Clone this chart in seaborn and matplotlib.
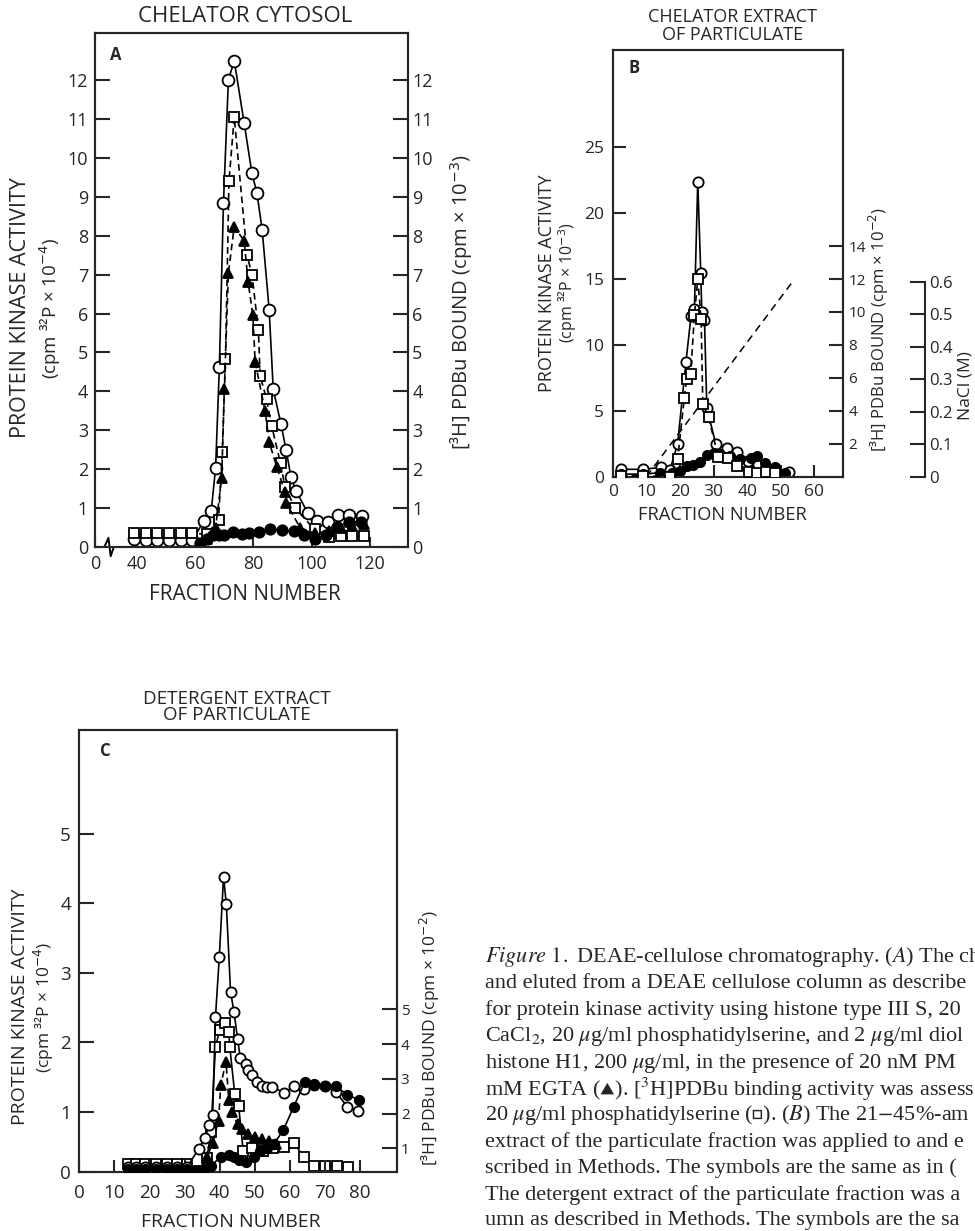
import numpy as np
import matplotlib
matplotlib.use("Agg")
import matplotlib.pyplot as plt
import seaborn as sns

# ---------- DATA ----------
# Panel A: chelator cytosol
A_open_x = [39, 43, 47, 51, 55, 59, 63, 65.5, 67, 68.3, 69.7, 71.4, 73.4, 76.8, 79.5, 81.2, 83, 85.4,
            86.8, 89.5, 91.2, 92.9, 94.6, 98.7, 101.8, 105.6, 109, 113, 117.3]
A_open_y = [0.2, 0.17, 0.17, 0.18, 0.18, 0.17, 0.67, 0.93, 2.03, 4.63, 8.84, 12.0, 12.5, 10.9, 9.6, 9.1,
            8.15, 6.1, 4.05, 3.15, 2.5, 1.8, 1.45, 0.87, 0.67, 0.64, 0.82, 0.83, 0.8]
A_sq_x = [39, 43, 47, 51, 55, 59, 64, 68, 69.3, 70.4, 71.6, 73.4, 77.8, 79.5, 81.7, 82.3, 84.5, 86.3,
          89.3, 90.8, 94.3, 101, 106, 110, 114, 118]
A_sq_y = [0.35, 0.35, 0.35, 0.35, 0.35, 0.35, 0.33, 0.7, 2.44, 4.83, 9.4, 11.05, 7.5, 7.0, 5.58, 4.4,
          3.8, 3.1, 2.15, 1.55, 1.0, 0.45, 0.26, 0.27, 0.27, 0.27]
A_tri_x = [64, 67, 69.1, 70, 71.4, 73.4, 76.8, 78.2, 79.8, 80.6, 84, 85.4, 88, 90.8, 91.3, 96, 101,
           106, 110, 114, 118]
A_tri_y = [0.2, 0.5, 1.78, 4.05, 7.04, 8.23, 7.87, 6.8, 5.95, 4.75, 3.5, 2.7, 2.06, 1.42, 1.13, 0.5,
           0.35, 0.4, 0.5, 0.55, 0.6]
A_fill_x = [61.6, 64, 66, 68, 70, 73, 76, 78.5, 82, 85.7, 89.8, 93.8, 97.5, 101, 105, 108.7, 112.7, 117]
A_fill_y = [0.1, 0.2, 0.3, 0.3, 0.3, 0.38, 0.33, 0.35, 0.38, 0.46, 0.43, 0.4, 0.3, 0.2, 0.3, 0.52,
            0.63, 0.63]

# Panel B: chelator extract of particulate
B_open_x = [2.4, 9.1, 14.4, 17, 19.3, 21.8, 23.3, 24.3, 25.3, 26.2, 26.5, 27.3, 28, 30.7, 33.9, 36.9,
            40.2, 43.2, 45.5, 48.3, 52.3]
B_open_y = [0.56, 0.56, 0.71, 0.5, 2.48, 8.74, 12.2, 12.7, 22.4, 15.45, 12.5, 11.9, 5.2, 2.46, 2.16,
            1.9, 1.19, 0.89, 0.51, 0.43, 0.38]
B_sq_x = [2.4, 9.1, 16.9, 19.3, 21.3, 22, 23.2, 24.3, 25.3, 26.3, 26.8, 28.5, 31.4, 34.4, 36.9, 40.4,
          43, 45.6, 48.4]
B_sq_y = [0.05, 0.06, 0.0, 1.06, 4.76, 5.9, 6.24, 9.8, 12.0, 9.6, 4.42, 3.61, 1.22, 1.12, 0.65, 0.3,
          0.2, 0.27, 0.2]
B_fill_x = [2.4, 9, 14, 17.6, 20, 22, 24, 26, 28, 30, 32, 35, 38, 41, 42.9, 45.3, 48.3, 51.3]
B_fill_y = [0.2, 0.2, 0.3, 0.26, 0.43, 0.81, 0.89, 1.14, 1.65, 1.82, 1.7, 1.55, 1.35, 1.4, 1.57, 1.02,
            0.76, 0.26]
B_nacl_x = [10, 53.5]
B_nacl_y = [0.0, 0.6]

# Panel C: detergent extract of particulate
C_open_x = [13.8, 16.2, 18.8, 21.9, 25, 27.8, 30.7, 34, 35.7, 37.1, 38, 38.8, 39.9, 41.1, 41.9, 43.1,
            44.1, 45.1, 45.9, 47.4, 48, 49.3, 50.5, 52.1, 53.5, 55, 58.3, 61.3, 64, 66.9, 70, 73.1,
            76.4, 79.3]
C_open_y = [0.2, 0.2, 0.2, 0.2, 0.2, 0.2, 0.2, 0.46, 0.62, 0.8, 0.95, 2.36, 3.23, 4.38, 3.99, 2.73,
            2.43, 2.05, 1.77, 1.69, 1.6, 1.53, 1.42, 1.37, 1.36, 1.36, 1.27, 1.37, 1.32, 1.38, 1.37,
            1.28, 1.07, 1.01]
C_sq_x = [13.8, 16.2, 18.8, 21.9, 25, 27.8, 30.7, 34.2, 36.4, 37.5, 38.8, 40, 41.4, 42.6, 42.9, 44.3,
          45.4, 46.7, 49.3, 52.4, 55.2, 58.3, 61.3, 64, 66.9, 70, 73.3, 76.6]
C_sq_y = [0.55, 0.55, 0.55, 0.55, 0.55, 0.55, 0.55, 0.36, 0.73, 1.48, 3.91, 4.41, 4.62, 4.36, 3.91,
          2.56, 2.23, 0.93, 1.0, 0.92, 1.0, 1.03, 1.14, 0.74, 0.5, 0.5, 0.5, 0.45]
C_tri_x = [34, 36.5, 38, 39.7, 40.3, 41.8, 42.6, 43.5, 45.1, 46.5, 48, 50, 52, 54, 56]
C_tri_y = [0.15, 0.35, 0.55, 0.87, 1.38, 1.72, 1.17, 1.0, 0.82, 0.75, 0.68, 0.63, 0.6, 0.57, 0.53]
C_fill_x = [13.8, 16.2, 18.8, 21.9, 25, 27.8, 30.7, 33, 35.5, 37.6, 40.3, 42.6, 44.2, 45.5, 47.4, 49.7,
            51.6, 53.5, 55.4, 58.1, 61.1, 64.2, 67, 70, 73.1, 76.4, 79.7]
C_fill_y = [0.18, 0.18, 0.18, 0.18, 0.18, 0.18, 0.18, 0.15, 0.17, 0.22, 0.35, 0.37, 0.35, 0.3, 0.27,
            0.35, 0.43, 0.48, 0.53, 0.73, 1.07, 1.42, 1.4, 1.37, 1.37, 1.24, 1.17]

CAPTION = [
    r"$\mathit{Figure\ 1.}$ DEAE-cellulose chromatography. ($\mathit{A}$) The ch",
    "and eluted from a DEAE cellulose column as describe",
    "for protein kinase activity using histone type III S, 20",
    r"CaCl$_2$, 20 $\mu$g/ml phosphatidylserine, and 2 $\mu$g/ml diol",
    r"histone H1, 200 $\mu$g/ml, in the presence of 20 nM PM",
    "mM EGTA ($\u25b4$). [$^3$H]PDBu binding activity was assess",
    "20 $\\mu$g/ml phosphatidylserine ($\u25ab$). ($\\mathit{B}$) The 21$-$45%-am",
    "extract of the particulate fraction was applied to and e",
    "scribed in Methods. The symbols are the same as in (",
    "The detergent extract of the particulate fraction was a",
    "umn as described in Methods. The symbols are the sa",
]

# ---------- STYLE ----------
sns.set_style("ticks")
plt.rcParams['font.family'] = ['Open Sans', 'DejaVu Sans']
plt.rcParams['axes.linewidth'] = 1.5
plt.rcParams['xtick.major.width'] = 1.5
plt.rcParams['ytick.major.width'] = 1.5

W, H = 975, 1231
fig = plt.figure(figsize=(W / 100, H / 100), dpi=100)


def px_axes(left, top, right, bottom):
    return fig.add_axes([left / W, 1 - bottom / H, (right - left) / W, (bottom - top) / H])


def ftext(x, y, s, **kw):
    return fig.text(x / W, 1 - y / H, s, **kw)


MARKS = {
    "open": dict(marker="o", markerfacecolor="white"),
    "square": dict(marker="s", markerfacecolor="white"),
    "tri": dict(marker="^", markerfacecolor="black"),
    "fill": dict(marker="o", markerfacecolor="black"),
}


def series(ax, x, y, kind, ms, dashed=False, z=3):
    sns.lineplot(x=x, y=y, ax=ax, sort=False, estimator=None, color="black",
                 linewidth=1.2, linestyle=(0, (4, 2.5)) if dashed else "-",
                 markersize=ms, markeredgecolor="black", markeredgewidth=1.3,
                 zorder=z, **MARKS[kind])


def clean(ax):
    ax.set_xlabel("")
    ax.set_ylabel("")
    for s in ax.spines.values():
        s.set_linewidth(1.5)


# ---------- PANEL A ----------
axA = px_axes(95, 33, 408, 547)
series(axA, A_open_x, A_open_y, "open", 8.5)
series(axA, A_sq_x, A_sq_y, "square", 7.5, dashed=True, z=4)
series(axA, A_tri_x, A_tri_y, "tri", 7.5, dashed=True, z=5)
series(axA, A_fill_x, A_fill_y, "fill", 7.5, z=6)
axA.set_xlim(25.57, 133.1)
axA.set_ylim(0, 13.21)
axA.set_xticks([25.57, 40, 60, 80, 100, 120], ["0", "40", "60", "80", "100", "120"])
axA.set_yticks(range(0, 13))
axA.tick_params(axis="y", direction="in", length=11, pad=5, labelsize=13)
axA.tick_params(axis="x", direction="in", length=7, pad=6, labelsize=13)
clean(axA)
axA2 = axA.twinx()
axA2.set_ylim(axA.get_ylim())
axA2.set_yticks(range(0, 13))
axA2.tick_params(axis="y", direction="in", length=11, pad=3, labelsize=13)
clean(axA2)
# axis break on the fraction axis
brk = axA.transAxes
axA.plot([0.026, 0.056], [0, 0], color="white", lw=4, transform=brk, clip_on=False, zorder=10)
axA.plot([0.02, 0.03, 0.043, 0.05, 0.06], [0, 0, 0.018, -0.018, 0], color="black", lw=1.4,
         transform=brk, clip_on=False, zorder=11)

ftext(245, 17, "CHELATOR CYTOSOL", ha="center", va="center", fontsize=16)
ftext(116, 55, "A", ha="center", va="center", fontsize=12, fontweight="bold")
ftext(245, 594, "FRACTION NUMBER", ha="center", va="center", fontsize=15)
ftext(21, 308, "PROTEIN KINASE ACTIVITY", rotation=90, ha="center", va="center", fontsize=15.5)
ftext(50, 308, r"(cpm ³²P × 10$^{-4}$)", rotation=90, ha="center", va="center", fontsize=13.5)
ftext(462, 302, r"[³H] PDBu BOUND (cpm × 10$^{-3}$)", rotation=90, ha="center", va="center",
      fontsize=14.5)

# ---------- PANEL B ----------
axB = px_axes(612.7, 50, 843, 476.7)
axB3 = axB.twinx()
axB2 = axB.twinx()
series(axB, B_open_x, B_open_y, "open", 7.4, z=3)
series(axB, B_fill_x, B_fill_y, "fill", 6.7, z=4)
series(axB2, B_sq_x, B_sq_y, "square", 6.5, dashed=True, z=5)
sns.lineplot(x=B_nacl_x, y=B_nacl_y, ax=axB3, color="black", linewidth=1.1,
             linestyle=(0, (5, 3.5)), estimator=None, sort=False)
axB.set_xlim(0, 68.5)
axB.set_ylim(0, 32.4)
axB.set_xticks(range(0, 61, 10))
axB.set_yticks(range(0, 26, 5))
axB.tick_params(axis="y", direction="in", length=9, pad=6, labelsize=12.5)
axB.tick_params(axis="x", direction="in", length=9, pad=5, labelsize=12.5)
clean(axB)
axB2.set_ylim(0, 25.9)
axB2.set_yticks(range(2, 15, 2))
axB2.tick_params(axis="y", direction="in", length=10, pad=4, labelsize=11)
clean(axB2)
axB3.set_xlim(0, 68.5)
axB3.set_ylim(0, 1.313)
axB3.spines["right"].set_position(("axes", (925 - 612.7) / (843 - 612.7)))
axB3.spines["right"].set_bounds(0, 0.6)
axB3.set_yticks([0, 0.1, 0.2, 0.3, 0.4, 0.5, 0.6], ["0", "0.1", "0.2", "0.3", "0.4", "0.5", "0.6"])
axB3.tick_params(axis="y", direction="in", length=11, pad=3, labelsize=12)
clean(axB3)
for side in ("top", "left", "bottom"):
    axB3.spines[side].set_visible(False)
axB.set_zorder(3)
axB.patch.set_visible(False)
axB2.set_zorder(4)

ftext(733, 26, "CHELATOR EXTRACT\nOF PARTICULATE", ha="center", va="center", fontsize=13,
      linespacing=0.95)
ftext(634, 68, "B", ha="center", va="center", fontsize=12, fontweight="bold")
ftext(722, 515, "FRACTION NUMBER", ha="center", va="center", fontsize=13.2)
ftext(547, 283, "PROTEIN KINASE ACTIVITY", rotation=90, ha="center", va="center", fontsize=13)
ftext(568, 283, r"(cpm ³²P × 10$^{-3}$)", rotation=90, ha="center", va="center", fontsize=11.5)
ftext(879, 330, r"[³H] PDBu BOUND (cpm × 10$^{-2}$)", rotation=90, ha="center", va="center",
      fontsize=12)
ftext(965, 386, "NaCl (M)", rotation=90, ha="center", va="center", fontsize=12.5)

# ---------- PANEL C ----------
axC = px_axes(79.3, 730, 396.7, 1171.7)
axC2 = axC.twinx()
series(axC, C_open_x, C_open_y, "open", 7.3, z=3)
series(axC, C_tri_x, C_tri_y, "tri", 6.5, dashed=True, z=5)
series(axC, C_fill_x, C_fill_y, "fill", 6.8, z=6)
series(axC2, C_sq_x, C_sq_y, "square", 6.8, z=4)
axC.set_xlim(0, 90.45)
axC.set_ylim(0.134, 6.5)
axC.set_xticks(range(0, 81, 10))
axC.set_yticks([0.134, 1, 2, 3, 4, 5], ["0", "1", "2", "3", "4", "5"])
axC.tick_params(axis="y", direction="in", length=11, pad=6, labelsize=13.5)
axC.tick_params(axis="x", direction="in", length=9, pad=9, labelsize=13.5)
clean(axC)
axC2.set_ylim(0.326, 13.05)
axC2.set_yticks(range(1, 6))
axC2.tick_params(axis="y", direction="in", length=11, pad=3, labelsize=11)
clean(axC2)
axC.set_zorder(3)
axC.patch.set_visible(False)
axC2.set_zorder(2)

ftext(237, 707, "DETERGENT EXTRACT\nOF PARTICULATE", ha="center", va="center", fontsize=13.5,
      linespacing=0.9)
ftext(105, 751, "C", ha="center", va="center", fontsize=12, fontweight="bold")
ftext(231, 1222, "FRACTION NUMBER", ha="center", va="center", fontsize=14)
ftext(20, 1007, "PROTEIN KINASE ACTIVITY", rotation=90, ha="center", va="center", fontsize=14)
ftext(44, 1007, r"(cpm ³²P × 10$^{-4}$)", rotation=90, ha="center", va="center", fontsize=12.5)
ftext(430, 1038, r"[³H] PDBu BOUND (cpm × 10$^{-2}$)", rotation=90, ha="center", va="center",
      fontsize=12.5)

# ---------- CAPTION ----------
for i, line in enumerate(CAPTION):
    ftext(485, 957 + i * 26.4, line, ha="left", va="center", fontsize=16,
          family="Liberation Serif", math_fontfamily="stix")

fig.savefig("out.png", dpi=100)
